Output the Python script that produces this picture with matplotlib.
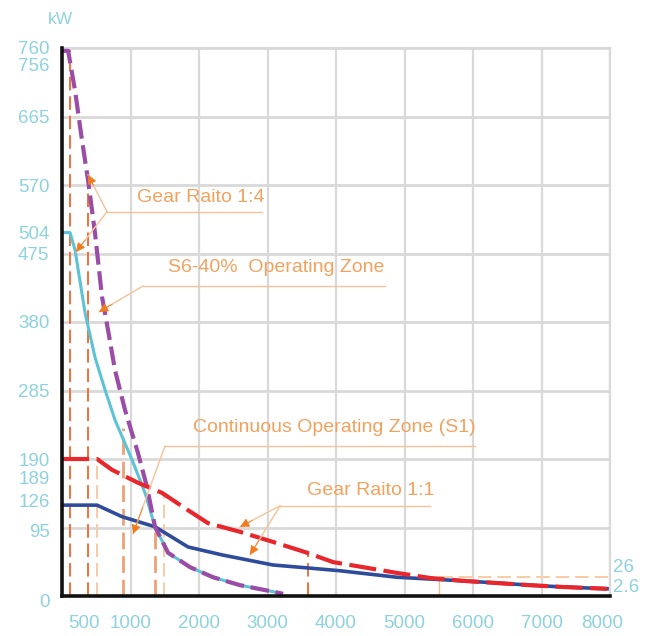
import matplotlib
matplotlib.use("Agg")
import matplotlib.pyplot as plt
import matplotlib.transforms as mtransforms
import numpy as np

# ---------------- data ----------------
purple_rpm = [0, 90, 190, 292, 380, 482, 584, 672, 774, 920, 1110, 1241, 1358, 1548, 1869, 2205, 2599, 3081, 3227]
purple_kw = [756, 756, 701, 632, 577, 503, 415, 369, 313, 258, 198, 151, 96, 60, 40, 26, 15, 6, 3]

cyan_rpm = [0, 117, 190, 336, 482, 628, 774, 1022, 1212, 1358]
cyan_kw = [504, 504, 480, 393, 331, 286, 244, 189, 143, 96]

red_rpm = [0, 511, 730, 1110, 1460, 1840, 2132, 2600, 3081, 3577, 3957, 4395, 4891, 5373, 5855, 6351, 6833, 7315, 7957]
red_kw = [190, 190, 175, 157, 143, 119, 101, 89, 75, 60, 47, 40, 32, 25, 21, 18, 15, 12.5, 10]

blue_rpm = [0, 511, 876, 1358, 1840, 2336, 3081, 3577, 4059, 4891, 5855]
blue_kw = [126, 126, 110, 96, 68, 57, 43, 39, 35, 26, 21]

ref_rpm = [117, 380, 510, 890, 1360, 1490, 3590, 5500]
ref_top = [756, 577, 190, 233, 96, 140, 60, 26]
ref_kind = ["dark", "dark", "light", "mid", "mid", "light", "dark", "solid"]

y_ticks = [0, 95, 126, 189, 190, 285, 380, 475, 504, 570, 665, 756, 760]
x_ticks = [500, 1000, 2000, 3000, 4000, 5000, 6000, 7000, 8000]
right_labels = ["26", "2.6"]
right_label_kw = [39, 12]

# ---------------- style ----------------
plt.rcParams["font.family"] = ["Liberation Sans", "DejaVu Sans"]

TICK = "#8dd2df"
TXT = "#f3a25e"
LEAD = "#f8c296"
HEAD = "#f07c1e"
PURPLE = "#9a4ca6"
CYAN = "#5cc3d6"
RED = "#e8262b"
BLUE = "#2f4c9c"
GRID = "#d9d9d9"

fig = plt.figure(figsize=(6.56, 6.36), dpi=100)
ax = fig.add_axes([62/656, 1-596/636, (610-62)/656, (596-48)/636])
ax.set_xlim(0, 8000)
ax.set_ylim(0, 760)

# grid
for gx in range(1000, 8001, 1000):
    ax.axvline(gx, color=GRID, lw=1.6, zorder=0)
for gy in range(95, 761, 95):
    ax.axhline(gy, color=GRID, lw=2.0, zorder=0)

for s in ["top", "right"]:
    ax.spines[s].set_color(GRID)
    ax.spines[s].set_linewidth(1.6)
for s in ["left", "bottom"]:
    ax.spines[s].set_color("#111111")
    ax.spines[s].set_linewidth(2.6)
    ax.spines[s].set_zorder(6)

# reference lines
ref_style = {
    "dark": dict(color="#f2703a", lw=1.4, dashes=(7, 3)),
    "light": dict(color="#f9cba6", lw=1.4, dashes=(7, 3)),
    "mid": dict(color="#eda275", lw=2.0, dashes=(6, 2.5)),
    "solid": dict(color="#f6b98a", lw=1.0),
}
for r, t, k in zip(ref_rpm, ref_top, ref_kind):
    st = dict(ref_style[k])
    d = st.pop("dashes", None)
    line, = ax.plot([r, r], [0, t], zorder=2, **st)
    if d:
        line.set_dashes(d)
hl, = ax.plot([ref_rpm[-1], 8000], [ref_top[-1], ref_top[-1]], color="#f9cba6", lw=1.4, zorder=2)
hl.set_dashes((7, 3))
tl, = ax.plot([0, ref_rpm[0]], [ref_top[0], ref_top[0]], color="#f2703a", lw=1.4, zorder=2)

# curves
p_rpm = np.array(purple_rpm); p_kw = np.array(purple_kw)
r_rpm = np.array(red_rpm); r_kw = np.array(red_kw)
cyan_x = cyan_rpm + list(p_rpm[p_rpm > cyan_rpm[-1]])
cyan_y = cyan_kw + list(p_kw[p_rpm > cyan_rpm[-1]])
blue_x = blue_rpm + list(r_rpm[r_rpm > blue_rpm[-1]])
blue_y = blue_kw + list(r_kw[r_rpm > blue_rpm[-1]])

ax.plot(cyan_x, cyan_y, color=CYAN, lw=2.2, zorder=3, solid_capstyle="butt")
ax.plot(blue_x, blue_y, color=BLUE, lw=2.6, zorder=3)
pl, = ax.plot(purple_rpm, purple_kw, color=PURPLE, lw=3.0, zorder=4)
pl.set_dashes((4.5, 1.6))
rl, = ax.plot(red_rpm, red_kw, color=RED, lw=3.0, zorder=4)
rl.set_dashes((6.5, 1.8))

# ticks
ax.set_yticks(y_ticks)
ax.set_yticklabels([str(v) for v in y_ticks])
ax.set_xticks(x_ticks)
ax.set_xticklabels([str(v) for v in x_ticks])
ax.tick_params(axis="both", length=0, labelsize=13.5, labelcolor=TICK)
ax.tick_params(axis="y", pad=9)
ax.tick_params(axis="x", pad=14)
y_shift = {756: -10, 189: -13, 126: 3, 95: -2, 0: -3}
for lab, v in zip(ax.get_yticklabels(), y_ticks):
    dy = y_shift.get(v, 0)
    if dy:
        lab.set_transform(lab.get_transform() + mtransforms.ScaledTranslation(0, dy/72, fig.dpi_scale_trans))
x_shift = {500: -9, 8000: -6}
for lab, v in zip(ax.get_xticklabels(), x_ticks):
    dx = x_shift.get(v, 0)
    if dx:
        lab.set_transform(lab.get_transform() + mtransforms.ScaledTranslation(dx/72, 0, fig.dpi_scale_trans))

fig.text(60/656, 1-20/636, "kW", color=TICK, fontsize=12.5, ha="center", va="center")

for lab, v in zip(right_labels, right_label_kw):
    ax.annotate(lab, xy=(1, v), xycoords=("axes fraction", "data"), xytext=(2, 0),
                textcoords="offset points", color=TICK, fontsize=13.5, ha="left", va="center",
                annotation_clip=False)

# annotations
def label(text, tx, ty, ul_x0, ul_x1, ul_y, tips):
    ax.text(tx, ty, text, color=TXT, fontsize=14,
            ha="left", va="center", zorder=7)
    ax.plot([ul_x0, ul_x1], [ul_y, ul_y], color=LEAD, lw=1.0, zorder=5)
    for (x, y) in tips:
        ax.plot([ul_x0, x], [ul_y, y], color=LEAD, lw=1.0, zorder=5)
        bx = x + 0.3 * (ul_x0 - x)
        by = y + 0.3 * (ul_y - y)
        ax.annotate("", xy=(x, y), xytext=(bx, by),
                    arrowprops=dict(arrowstyle="-|>", color=HEAD, lw=0.6,
                                    mutation_scale=14, shrinkA=0, shrinkB=0), zorder=6)

label("Gear Raito 1:4", 1095, 553, 657, 2920, 533, [(380, 584), (204, 477)])
label("S6-40%  Operating Zone", 1548, 455, 1183, 4716, 430, [(540, 394)])
label("Continuous Operating Zone (S1)", 1913, 234, 1504, 6030, 208, [(1037, 86)])
label("Gear Raito 1:1", 3577, 146, 3183, 5373, 125, [(2599, 96), (2745, 57)])

fig.savefig("out.png", dpi=100)
